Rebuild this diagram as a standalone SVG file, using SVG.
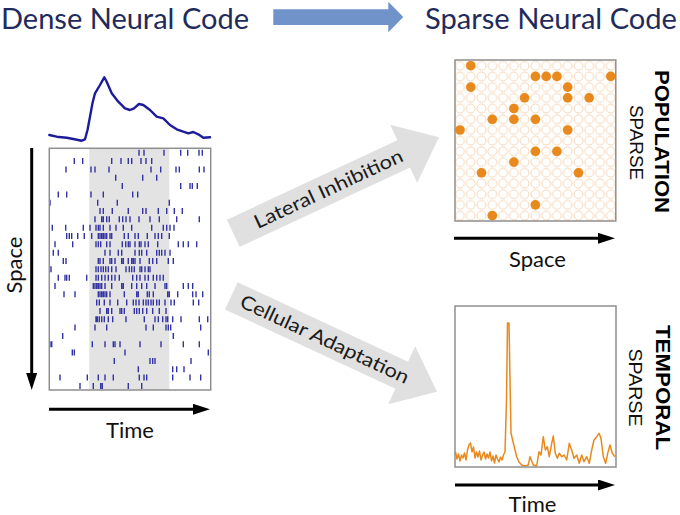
<svg xmlns="http://www.w3.org/2000/svg" width="680" height="515" viewBox="0 0 680 515">
<style>
.ttl{font-family:Lato,"Open Sans","DejaVu Sans",sans-serif;font-size:29px;fill:#1f2b5c}
.lbl{font-family:Lato,"Open Sans","DejaVu Sans",sans-serif;font-size:22px;fill:#111}
.arl{font-family:Lato,"Open Sans","DejaVu Sans",sans-serif;font-size:19px;fill:#1a1a1a}
.bold{font-family:"Liberation Sans",Arial,sans-serif;font-weight:bold;font-size:21px;fill:#000}
.reg{font-family:"Liberation Sans",Arial,sans-serif;font-size:18.5px;fill:#111}
.box{fill:none;stroke:#8e8e8e;stroke-width:1.5}
.axis{stroke:#000;stroke-width:3;fill:none;marker-end:url(#ah)}
.tk path{stroke:#3333a3;stroke-width:1.4;fill:none}
.on{fill:#e8891d}
.big{fill:#e0e0e0}
</style>
<defs>
<marker id="ah" markerUnits="userSpaceOnUse" markerWidth="18" markerHeight="12" refX="7" refY="5.5" orient="auto" viewBox="0 0 18 12">
<path d="M0,0 L17,5.5 L0,11 Z" fill="#000"/>
</marker>
<pattern id="dots" patternUnits="userSpaceOnUse" x="454.6" y="60.35" width="10.77" height="10.71">
<circle cx="5.385" cy="5.355" r="4.4" fill="none" stroke="#f4cfaa" stroke-width="0.9"/>
</pattern>
</defs>
<rect width="680" height="515" fill="#fff"/>

<g id="title">
<text class="ttl" x="1" y="29" textLength="248" lengthAdjust="spacingAndGlyphs">Dense Neural Code</text>
<polygon points="273.3,9.3 388.3,9.3 388.3,1.7 403.3,17 388.3,32.3 388.3,25 273.3,25" fill="#7093c9"/>
<text class="ttl" x="425" y="29" textLength="252" lengthAdjust="spacingAndGlyphs">Sparse Neural Code</text>
</g>

<g id="dense-raster">
<polyline fill="none" stroke="#1c1c9a" stroke-width="2.4" stroke-linejoin="round" stroke-linecap="round" points="49.3,135 56.7,136.7 66.7,137.7 73.3,139 81.7,140.7 85,139.3 87.5,130 90,116.7 92.5,103 95,93.3 100,85 104.3,77.3 106.7,81.7 111.7,93.3 118.3,101.7 125,108.3 130,110 134,108.3 139,104 143.3,105 150,110 156.7,116.7 163.3,118.3 170,125 176.7,129.3 183.3,131.7 188.3,133.3 193.3,132 198.3,134.3 203.3,137.7 210,137.3"/>
<rect x="49.3" y="148.3" width="161.4" height="241.7" fill="#fff"/>
<rect x="89.3" y="148.3" width="80" height="241.7" fill="#e3e3e3"/>
<g class="tk">
<path transform="translate(0,149.7)" d="M139 0v6M144 0v6M164 0v6M180.7 0v6M187.7 0v6M199 0v6M202.3 0v6"/>
<path transform="translate(0,158)" d="M74.3 0v6M82.7 0v6M111.7 0v6M121 0v6M128.3 0v6M131.7 0v6M141 0v6M146 0v6M151.7 0v6"/>
<path transform="translate(0,166.4)" d="M66 0v6M91 0v6M95 0v6M109 0v6M151 0v6M160.7 0v6M176 0v6M179.3 0v6M199.3 0v6M204 0v6"/>
<path transform="translate(0,174.7)" d="M115.7 0v6M142.7 0v6M156.7 0v6"/>
<path transform="translate(0,183)" d="M122.3 0v6M180.7 0v6M190 0v6M192.3 0v6M197.3 0v6"/>
<path transform="translate(0,191.4)" d="M58.3 0v6M66.7 0v6M91 0v6M103.3 0v6M132.7 0v6M137.7 0v6"/>
<path transform="translate(0,199.7)" d="M50 0v6M97.7 0v6M117.3 0v6M169.3 0v6"/>
<path transform="translate(0,208)" d="M100 0v6M103.3 0v6M112.3 0v6M128.3 0v6M142.7 0v6M146 0v6M158.3 0v6M166.7 0v6M174.3 0v6M182.3 0v6"/>
<path transform="translate(0,216.3)" d="M95 0v6M101.7 0v6M103.3 0v6M106.7 0v6M109.3 0v6M119.3 0v6M122.7 0v6M126 0v6M130 0v6M139 0v6M150 0v6M159.3 0v6M176.7 0v6M199.3 0v6"/>
<path transform="translate(0,224.7)" d="M52.3 0v6M65.7 0v6M83.3 0v6M90 0v6M96 0v6M98.3 0v6M100 0v6M103.3 0v6M110 0v6M116 0v6M123.3 0v6M131.7 0v6M151.7 0v6M163.3 0v6M166.7 0v6M170 0v6M174 0v6"/>
<path transform="translate(0,233)" d="M66.7 0v6M69.3 0v6M71.7 0v6M77.7 0v6M84.3 0v6M91.7 0v6M98.3 0v6M100 0v6M101.7 0v6M103.3 0v6M105 0v6M106.7 0v6M110 0v6M111.7 0v6M124.3 0v6M128.3 0v6M135 0v6M138.3 0v6M147.3 0v6M155 0v6M158.3 0v6M161.7 0v6M169.3 0v6"/>
<path transform="translate(0,241.3)" d="M55 0v6M72.7 0v6M96 0v6M98.3 0v6M100.7 0v6M106.7 0v6M110 0v6M122.3 0v6M125.7 0v6M128.3 0v6M130 0v6M135 0v6M139.3 0v6M141 0v6M145 0v6M148.3 0v6M157.7 0v6M178.3 0v6M183.3 0v6M188.3 0v6M196.7 0v6"/>
<path transform="translate(0,249.7)" d="M53.3 0v6M58.3 0v6M105 0v6M110 0v6M118.3 0v6M121.7 0v6M135 0v6M139.3 0v6M141.7 0v6M146.7 0v6M156.7 0v6M159.3 0v6M161.7 0v6M165 0v6M170 0v6"/>
<path transform="translate(0,258)" d="M63.3 0v6M66 0v6M98.3 0v6M100 0v6M103.3 0v6M110 0v6M111.7 0v6M115 0v6M121.7 0v6M123.3 0v6M128.3 0v6M131.7 0v6M133.3 0v6M135 0v6M140 0v6M149.3 0v6M152.7 0v6M156.7 0v6M168.3 0v6M173.3 0v6"/>
<path transform="translate(0,266.3)" d="M51 0v6M96 0v6M98.3 0v6M101 0v6M103.3 0v6M105.7 0v6M108.3 0v6M111.7 0v6M116 0v6M126 0v6M129.3 0v6M131.7 0v6M134.3 0v6M140 0v6M141.7 0v6M145 0v6M148.3 0v6M150 0v6"/>
<path transform="translate(0,274.7)" d="M58.3 0v6M65 0v6M66.7 0v6M69.3 0v6M86.7 0v6M96 0v6M98.3 0v6M101.7 0v6M105 0v6M108.3 0v6M111.7 0v6M115 0v6M119.3 0v6M132.7 0v6M136.7 0v6M140 0v6M145 0v6M148.3 0v6M153.3 0v6M156.7 0v6M160 0v6M163.3 0v6"/>
<path transform="translate(0,283)" d="M55 0v6M93.3 0v6M95 0v6M96.7 0v6M98.3 0v6M100 0v6M101.7 0v6M105 0v6M111.7 0v6M121.7 0v6M123.3 0v6M131.7 0v6M136.7 0v6M141.7 0v6M146.7 0v6M155 0v6M165 0v6M166.7 0v6M183.3 0v6M188.3 0v6M192.7 0v6"/>
<path transform="translate(0,291.3)" d="M64 0v6M75 0v6M98.3 0v6M100 0v6M101.7 0v6M103.3 0v6M105 0v6M106.7 0v6M110 0v6M124.3 0v6M136.7 0v6M138.3 0v6M147.3 0v6M149.3 0v6M153.3 0v6M167.7 0v6M169.3 0v6M177.7 0v6M192.7 0v6M196 0v6M202.7 0v6"/>
<path transform="translate(0,299.6)" d="M96.7 0v6M99.3 0v6M104.3 0v6M110 0v6M117.7 0v6M126.7 0v6M133.3 0v6M136 0v6M139 0v6M143.3 0v6M146 0v6M148.3 0v6M151 0v6M153.3 0v6M156.7 0v6M159.3 0v6M165 0v6M171 0v6M174.3 0v6M193.3 0v6M198.7 0v6"/>
<path transform="translate(0,308)" d="M100 0v6M106.7 0v6M108.3 0v6M111.7 0v6M120 0v6M121.7 0v6M124.3 0v6M134.3 0v6M136.7 0v6M139.3 0v6M142.7 0v6M146.7 0v6M152.7 0v6M159.3 0v6M166 0v6"/>
<path transform="translate(0,316.3)" d="M96 0v6M97.3 0v6M99.3 0v6M101.7 0v6M104.3 0v6M108.3 0v6M112.7 0v6M126 0v6M144.3 0v6M155 0v6M158.3 0v6M162.7 0v6M166 0v6M167.7 0v6M172.7 0v6M181 0v6M199.3 0v6M207.7 0v6"/>
<path transform="translate(0,324.6)" d="M75 0v6M95 0v6M106.7 0v6M146 0v6M153.3 0v6M166 0v6M168.3 0v6M170.7 0v6M200.7 0v6"/>
<path transform="translate(0,333)" d="M62.7 0v6M173.3 0v6"/>
<path transform="translate(0,341.3)" d="M50 0v6M51.7 0v6M92.3 0v6M105 0v6M113.3 0v6M115 0v6M120 0v6M140 0v6M161 0v6M183.3 0v6M199.3 0v6"/>
<path transform="translate(0,349.6)" d="M72.3 0v6M74.3 0v6M125 0v6M208.3 0v6"/>
<path transform="translate(0,358)" d="M114.3 0v6M150 0v6M152.7 0v6M155 0v6M191 0v6"/>
<path transform="translate(0,366.3)" d="M138.3 0v6M172.7 0v6M176.7 0v6M184 0v6"/>
<path transform="translate(0,374.6)" d="M60 0v6M87.3 0v6M98.3 0v6M105 0v6M113.3 0v6M139.3 0v6M144 0v6M146.7 0v6M172.7 0v6M190 0v6M200.7 0v6"/>
<path transform="translate(0,383)" d="M80 0v6M93.3 0v6M100.7 0v6M102.3 0v6M128.3 0v6M141.7 0v6"/>
</g>
<rect class="box" x="49.3" y="148.3" width="161.4" height="241.7"/>
<line class="axis" x1="31.7" y1="148" x2="31.7" y2="380"/>
<text class="lbl" transform="translate(22,265) rotate(-90)" text-anchor="middle">Space</text>
<line class="axis" x1="49" y1="409.3" x2="200" y2="409.3"/>
<text class="lbl" x="130" y="438" text-anchor="middle">Time</text>
</g>

<g id="population-sparse">
<rect x="454.6" y="60.35" width="161.55" height="160.65" fill="url(#dots)"/>
<g class="on">
<circle cx="470.8" cy="65.7" r="4.8"/>
<circle cx="535.4" cy="76.4" r="4.8"/><circle cx="546.2" cy="76.4" r="4.8"/><circle cx="556.9" cy="76.4" r="4.8"/><circle cx="610.8" cy="76.4" r="4.8"/>
<circle cx="470.8" cy="87.1" r="4.8"/><circle cx="567.7" cy="87.1" r="4.8"/>
<circle cx="524.6" cy="97.8" r="4.8"/><circle cx="567.7" cy="97.8" r="4.8"/><circle cx="589.2" cy="97.8" r="4.8"/>
<circle cx="513.9" cy="108.5" r="4.8"/>
<circle cx="492.3" cy="119.3" r="4.8"/><circle cx="513.9" cy="119.3" r="4.8"/><circle cx="535.4" cy="119.3" r="4.8"/>
<circle cx="460" cy="130" r="4.8"/><circle cx="567.7" cy="130" r="4.8"/>
<circle cx="535.4" cy="151.4" r="4.8"/><circle cx="556.9" cy="151.4" r="4.8"/>
<circle cx="513.9" cy="162.1" r="4.8"/>
<circle cx="481.5" cy="172.8" r="4.8"/><circle cx="578.5" cy="172.8" r="4.8"/>
<circle cx="535.4" cy="204.9" r="4.8"/>
<circle cx="492.3" cy="215.6" r="4.8"/>
</g>
<rect class="box" x="455" y="60" width="160.8" height="161"/>
<line class="axis" x1="454" y1="238.3" x2="605" y2="238.3"/>
<text class="lbl" x="537.5" y="266.5" text-anchor="middle">Space</text>
<text class="bold" transform="translate(655,141.5) rotate(90)" text-anchor="middle" textLength="143" lengthAdjust="spacingAndGlyphs">POPULATION</text>
<text class="reg" transform="translate(629.5,142.5) rotate(90)" text-anchor="middle" textLength="75" lengthAdjust="spacingAndGlyphs">SPARSE</text>
</g>

<g id="temporal-sparse">
<rect x="455" y="306" width="161" height="161" fill="#fff"/>
<polyline fill="none" stroke="#e8891d" stroke-width="1.5" stroke-linejoin="round" points="455.5,452 457,459 458.5,454 460,461 461.5,455 463,458 464.5,453 466,460 467.5,450 469,445 470.5,443 472,452 473.5,447 475,458 476.5,452 478,457 479.5,451 481,460 482.5,455 484,452 485.5,459 487,454 488.5,458 490,452 491.5,461 493,456 494.5,463 496,455 497.5,459 499,462 500.5,457 502,460 503.5,455 505,452 506.5,400 507.5,323 509,323 510,380 511,433 513.3,443 516.7,456.7 519,462 521.7,465 525,466 528.3,465 530,456.7 533.3,465 536.7,466 539,451.7 541,455 543.3,436.7 545.3,450 547.3,446.7 549.3,456.7 551.7,443.3 553.3,436 555.3,453.3 557.3,458.3 559.3,453.3 561.7,456.7 564,455 566.7,460 569.3,443.3 571.7,450 574,458.3 576.7,455 579.3,463.3 581.7,455 584,461.7 586.7,456.7 589.3,463.3 591.7,450 594,440 596.7,436.7 599,433.3 601,438.3 603.3,456.7 605.7,463.3 607.7,453.3 610,445 612.3,453.3 615,456.7"/>
<rect class="box" x="455" y="306" width="161" height="161"/>
<line class="axis" x1="455" y1="485" x2="605" y2="485"/>
<text class="lbl" x="532.5" y="511.5" text-anchor="middle">Time</text>
<text class="bold" transform="translate(656,387.5) rotate(90)" text-anchor="middle" textLength="125" lengthAdjust="spacingAndGlyphs">TEMPORAL</text>
<text class="reg" transform="translate(628.5,387.5) rotate(90)" text-anchor="middle" textLength="78" lengthAdjust="spacingAndGlyphs">SPARSE</text>
</g>

<g id="connectors">
<g id="lateral-inhibition" transform="translate(233.3,233.3) rotate(-25)">
<polygon class="big" points="0,-15 188,-15 188,-32 227,0 188,32 188,15 0,15"/>
<text class="arl" x="105" y="6.5" text-anchor="middle" textLength="162" lengthAdjust="spacingAndGlyphs">Lateral Inhibition</text>
</g>
<g id="cellular-adaptation" transform="translate(231.3,295.8) rotate(25)">
<polygon class="big" points="0,-15 188,-15 188,-32 227,0 188,32 188,15 0,15"/>
<text class="arl" x="103" y="6.5" text-anchor="middle" textLength="184" lengthAdjust="spacingAndGlyphs">Cellular Adaptation</text>
</g>
</g>
</svg>
